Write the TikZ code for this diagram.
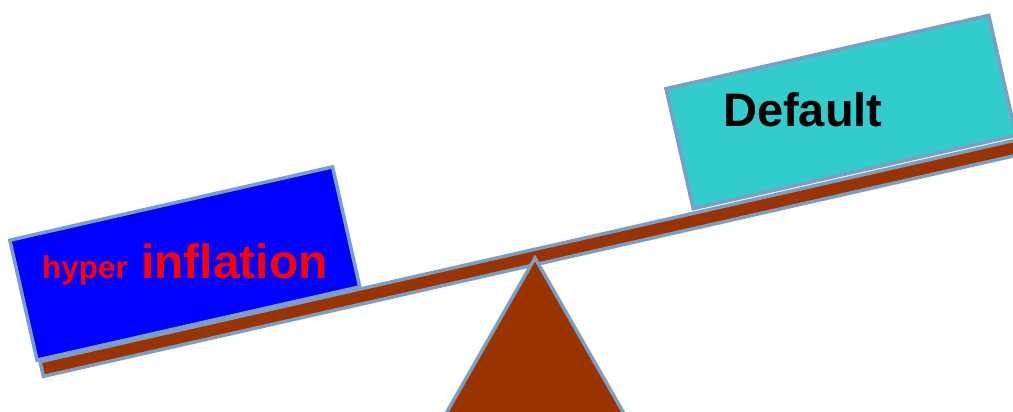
\documentclass[tikz,border=0pt]{standalone}
\usepackage{fontspec}
\setmainfont{Liberation Sans}
\definecolor{edge}{RGB}{122,158,196}
\definecolor{wood}{HTML}{993300}
\definecolor{boxblue}{HTML}{0000FF}
\definecolor{boxcyan}{HTML}{33CCCC}
\definecolor{txtred}{HTML}{FF0000}
\tikzset{
  weight/.style={draw=edge, line width=3.5pt, inner sep=0pt, minimum width=331pt, minimum height=123pt, rotate=12.8},
  plankbar/.style={draw=edge, line width=3.5pt, fill=wood, inner sep=0pt, minimum width=1015pt, minimum height=15pt, rotate=12.8},
  fulcrum/.style={draw=edge, line width=3.5pt, fill=wood, line join=miter},
  label/.style={inner sep=0pt, font=\bfseries},
}
\begin{document}
\begin{tikzpicture}[x=1pt,y=-1pt]
\useasboundingbox (0,0) rectangle (1013,412);
\clip (0,0) rectangle (1013,412);
\node[plankbar] (plank) at (536.6,256.6) {};
\coordinate (apex) at (535,258);
\coordinate (bl) at (424,452);
\coordinate (br) at (646,452);
\draw[fulcrum] (apex) -- (br) -- (bl) -- cycle;
\node[weight, fill=boxblue] (left) at (184.8,263.5) {};
\node[weight, fill=boxcyan] (right) at (841,112) {};
\node[label, text=txtred, anchor=base west, font=\bfseries\fontsize{31.5}{34}\selectfont] (hyper) at (42,278) {hyper};
\node[label, text=txtred, anchor=base west, font=\bfseries\fontsize{48}{50}\selectfont] (infl) at (141,278) {inflation};
\node[label, text=black, anchor=base west, font=\bfseries\fontsize{47}{50}\selectfont] (def) at (723,127) {Default};
\end{tikzpicture}
\end{document}
